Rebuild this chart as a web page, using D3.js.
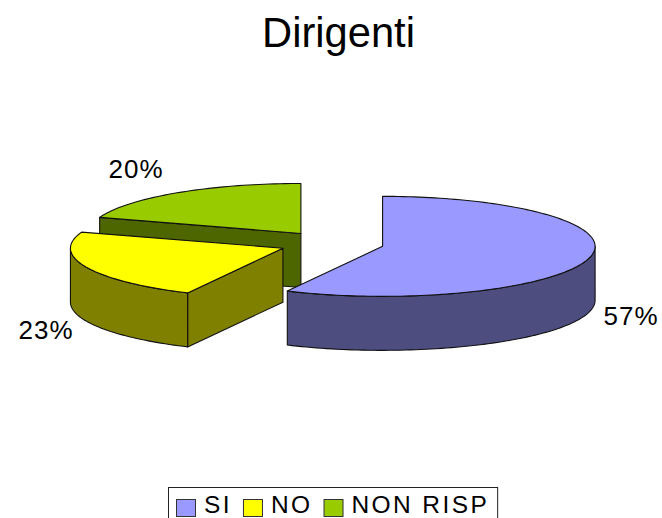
<!DOCTYPE html>
<html><head><meta charset="utf-8">
<script src="https://cdn.jsdelivr.net/npm/d3@7"></script>
<style>html,body{margin:0;padding:0;background:#fff}svg{display:block}text{font-family:"Liberation Sans",Arial,sans-serif;fill:#000}</style>
</head><body><svg id="c" width="662" height="518"></svg>
<script>
const categories=["SI","NO","NON RISP"];
const values=[57.4,22.8,19.8];
const labels=["57%","23%","20%"];
const topColors=["#9999ff","#ffff00","#99cc00"];
const wallColors=["#4d4d80","#808000","#4d6600"];
const labelPos=[[631,325],[46,339],[136,178]];

const cx=331.5,cy=243.5,rx=212.5,ry=50,depth=54,explode=52.5;
const svg=d3.select("#c");
svg.append("text").attr("x",338.5).attr("y",47).attr("text-anchor","middle").attr("font-size",41.7).text("Dirigenti");

const pie=d3.pie().sort(null).value(d=>d)(values);
const px=a=>rx*Math.sin(a), py=a=>-ry*Math.cos(a);
const line=d3.line();
const arcPts=(a0,a1)=>{const n=Math.max(2,Math.ceil(Math.abs(a1-a0)*40));
  return d3.range(n+1).map(i=>{const a=a0+(a1-a0)*i/n;return [px(a),py(a)];});};
const P=(g,pts,fill)=>g.append("path").attr("d",line(pts)+"Z").attr("fill",fill)
  .attr("stroke","#111").attr("stroke-width",1.1).attr("stroke-linejoin","round");

[2,1,0].forEach(i=>{
  const s=pie[i],mid=(s.startAngle+s.endAngle)/2;
  const g=svg.append("g").attr("transform",`translate(${cx+explode*Math.sin(mid)},${cy-explode*Math.cos(mid)*ry/rx})`);
  const a0=s.startAngle,a1=s.endAngle;
  // radial wall facing the viewer (slices NO and NON RISP)
  if(i>0) P(g,[[0,0],[px(a0),py(a0)],[px(a0),py(a0)+depth],[0,depth]],wallColors[i]);
  // outer curved wall: front half only
  const fa0=Math.max(a0,Math.PI/2),fa1=Math.min(a1,Math.PI*1.5);
  if(fa1>fa0){
    const top=arcPts(fa0,fa1),bot=top.map(p=>[p[0],p[1]+depth]).reverse();
    P(g,top.concat(bot),wallColors[i]);
  }
  P(g,[[0,0]].concat(arcPts(a0,a1)),topColors[i]);
});

labels.forEach((t,i)=>svg.append("text").attr("x",labelPos[i][0]).attr("y",labelPos[i][1]).attr("text-anchor","middle").attr("font-size",26).attr("letter-spacing",1).text(t));

// legend
const lg=svg.append("g");
const box=lg.append("rect").attr("x",168.5).attr("y",487.5).attr("height",40).attr("fill","#fff").attr("stroke","#222").attr("stroke-width",1);
let x=176;
categories.forEach((c,i)=>{
  lg.append("rect").attr("x",x+.5).attr("y",499.5).attr("width",19).attr("height",17).attr("fill",topColors[i]).attr("stroke","#333");
  const t=lg.append("text").attr("x",x+28).attr("y",512.8).attr("font-size",24.5).attr("letter-spacing",2.4).text(c);
  x+=28+t.node().getComputedTextLength()+11;
});
box.attr("width",x-11+8-168);
</script></body></html>
